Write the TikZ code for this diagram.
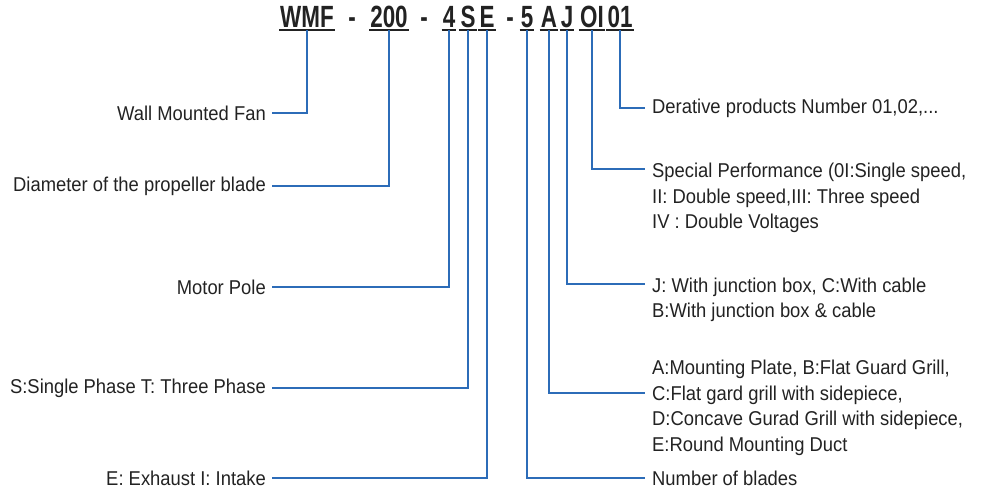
\documentclass[tikz,border=0pt]{standalone}
\usepackage{fontspec}
\setmainfont{Liberation Sans}[FakeStretch=0.92]
\newfontfamily\codefont{Liberation Sans}[FakeStretch=0.73]
\usepackage{tikz}
\definecolor{leadblue}{RGB}{44,108,184}
\definecolor{ink}{RGB}{34,34,34}
\tikzset{%
  code part/.style={
    font=\codefont\bfseries\fontsize{30.7}{32}\selectfont,
    text=ink,
    anchor=base,
    inner xsep=1pt,
    inner ysep=3pt,
    text depth=0pt
  },
  code dash/.style={code part, inner sep=0pt},
  underline/.style={draw=ink, line width=1.6pt},
  left label/.style={
    font=\fontsize{20}{25.5}\selectfont,
    text=ink,
    anchor=east,
    inner xsep=6pt,
    inner ysep=0pt
  },
  right label/.style={left label, anchor=west, align=left, inner xsep=7pt},
  lead/.style={draw=leadblue, line width=2.4pt},
}

\begin{document}
\begin{tikzpicture}[x=1pt,y=-1pt]
  \useasboundingbox (0,0) rectangle (982,488);

  % Model code
  \node[code part] (cWMF) at (307,27) {WMF};
  \node[code dash] (d1) at (352,27) {-};
  \node[code part] (c200) at (389,27) {200};
  \node[code dash] (d2) at (424,27) {-};
  \node[code part] (c4) at (449,27) {4};
  \node[code part] (cS) at (468,27) {S};
  \node[code part] (cE) at (487,27) {E};
  \node[code dash] (d3) at (510,27) {-};
  \node[code part] (c5) at (527,27) {5};
  \node[code part] (cA) at (549,27) {A};
  \node[code part] (cJ) at (567,27) {J};
  \node[code part] (cOI) at (592,27) {OI};
  \node[code part] (c01) at (620,27) {01};
  \foreach \part in {cWMF,c200,c4,cS,cE,c5,cA,cJ,cOI,c01}
    \draw[underline] (\part.south west) -- (\part.south east);

  % Left side
  \node[left label] (fan) at (272,113) {Wall Mounted Fan};
  \node[left label] (diam) at (272,186) {Diameter of the propeller blade};
  \node[left label] (pole) at (272,287) {Motor Pole};
  \node[left label] (phase) at (272,388) {S:Single Phase T: Three Phase};
  \node[left label] (flow) at (272,478) {E: Exhaust I: Intake};

  % Right side
  \node[right label] (deriv) at (645,108) {Derative products Number 01,02,...};
  \node[right label] (perf) at (645,198) {Special Performance (0I:Single speed,\\II: Double speed,III: Three speed\\IV : Double Voltages};
  \node[right label] (junction) at (645,300) {J: With junction box, C:With cable\\B:With junction box \& cable};
  \node[right label] (mount) at (645,408) {A:Mounting Plate, B:Flat Guard Grill,\\C:Flat gard grill with sidepiece,\\D:Concave Gurad Grill with sidepiece,\\E:Round Mounting Duct};
  \node[right label] (blades) at (645,478) {Number of blades};

  % code -> left labels
  \draw[lead] (cWMF.south) |- (fan.east);
  \draw[lead] (c200.south) |- (diam.east);
  \draw[lead] (c4.south) |- (pole.east);
  \draw[lead] (cS.south) |- (phase.east);
  \draw[lead] (cE.south) |- (flow.east);

  % code -> right labels
  \draw[lead] (c01.south) |- (deriv.west);
  \draw[lead] (cOI.south) |- ([yshift=29pt]perf.west);
  \draw[lead] (cJ.south) |- ([yshift=16pt]junction.west);
  \draw[lead] (cA.south) |- ([yshift=15pt]mount.west);
  \draw[lead] (c5.south) |- (blades.west);
\end{tikzpicture}
\end{document}
